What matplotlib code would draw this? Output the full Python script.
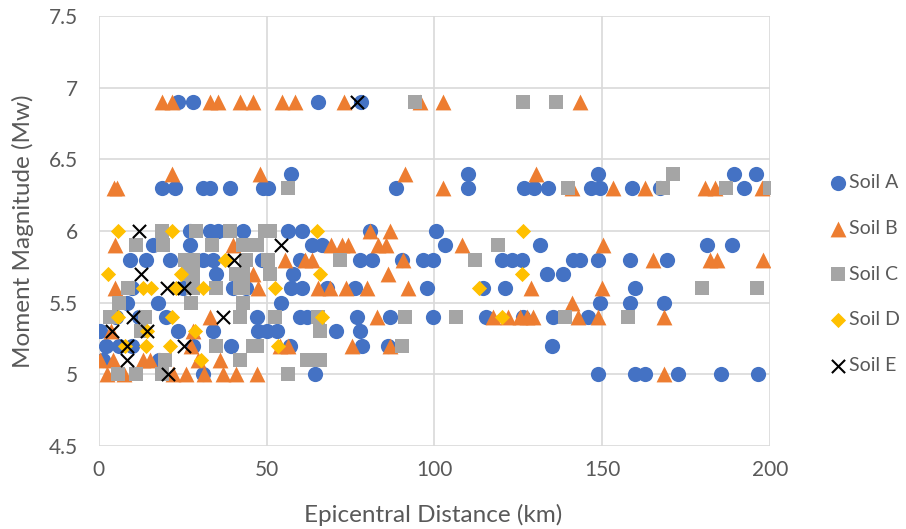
import matplotlib.pyplot as plt

plt.rcParams['font.family'] = ['Lato', 'DejaVu Sans']

# epicentral distance (km) and moment magnitude per soil class
soil_a_km = [23.6, 28.1, 65.4, 78.1,
             57.4, 110.0, 148.6, 189.1, 195.8,
             18.7, 22.7, 31.0, 33.0, 39.0, 49.0, 50.3, 88.5, 109.9, 126.8, 129.7, 133.7, 146.6, 149.3, 158.8, 167.2, 192.3,
             27.1, 33.1, 35.6, 43.0, 56.4, 60.4, 80.8, 100.5,
             16.2, 27.1, 63.4, 66.4, 103.1, 131.4, 181.1, 188.6,
             9.2, 14.0, 21.2, 31.0, 34.0, 48.5, 59.9, 77.8, 81.3, 90.2, 96.5, 99.5, 120.0, 123.0, 126.0, 141.4, 143.4, 148.8, 158.3, 169.2,
             35.0, 57.9, 133.4, 138.4,
             10.0, 25.0, 40.0, 44.0, 57.4, 60.4, 67.9, 76.3, 97.7, 114.5, 121.0, 159.8,
             8.3, 17.7, 54.4, 149.3, 158.3, 168.5,
             5.0, 12.0, 20.0, 47.0, 59.9, 61.9, 76.8, 86.7, 99.6, 115.5, 126.5, 135.4, 145.8,
             0.3, 23.6, 34.0, 47.5, 50.0, 53.0, 70.8, 77.8,
             2.3, 6.0, 10.0, 28.0, 39.5, 56.9, 78.3, 86.2, 135.1,
             1.2, 18.0,
             31.0, 64.4, 148.6, 159.8, 162.7, 172.5, 185.4, 196.5]
soil_a_mw = [6.9] * 4 + [6.4] * 5 + [6.3] * 17 + [6.0] * 8 + [5.9] * 8 + [5.8] * 20 + [5.7] * 4 \
    + [5.6] * 12 + [5.5] * 6 + [5.4] * 13 + [5.3] * 8 + [5.2] * 9 + [5.1] * 2 + [5.0] * 8

soil_b_km = [18.7, 21.7, 33.1, 35.6, 42.0, 46.0, 54.5, 58.4, 73.1, 95.7, 102.6, 143.4,
             21.7, 48.0, 91.2, 130.4,
             4.5, 5.5, 102.6, 140.9, 153.3, 162.7, 180.6, 183.6, 197.5,
             80.8, 86.7,
             4.8, 40.0, 69.2, 72.5, 74.3, 83.3, 85.7, 108.3, 150.3,
             55.4, 61.4, 63.4, 90.5, 165.2, 182.1, 184.1, 198.0,
             46.0, 86.2,
             4.8, 47.5, 65.4, 68.9, 73.8, 79.8, 92.2, 128.9, 149.8,
             140.9,
             33.0, 82.8, 117.5, 122.0, 125.5, 127.5, 129.4, 142.9, 148.8, 168.5,
             3.5, 28.0,
             27.6, 54.0, 56.4, 75.3, 86.7,
             0.3, 4.3, 13.2, 15.2, 29.6, 36.0,
             2.5, 7.5, 22.1, 26.1, 31.5, 37.0, 41.0, 47.0, 168.5]
soil_b_mw = [6.9] * 12 + [6.4] * 4 + [6.3] * 9 + [6.0] * 2 + [5.9] * 9 + [5.8] * 8 + [5.7] * 2 \
    + [5.6] * 9 + [5.5] * 1 + [5.4] * 10 + [5.3] * 2 + [5.2] * 5 + [5.1] * 6 + [5.0] * 9

soil_c_km = [94.2, 126.5, 136.1,
             171.0,
             56.4, 139.7, 168.2, 186.9, 200.0,
             18.7, 29.1, 39.0, 49.5, 51.0,
             11.2, 19.2, 33.6, 43.0, 47.0, 118.8,
             25.6, 28.0, 44.0, 50.5, 71.8, 112.1,
             26.5, 28.0, 41.0, 43.0, 51.0,
             8.7, 28.0, 35.0, 42.0, 43.0, 179.6, 196.0,
             6.0, 27.6, 43.0,
             3.3, 13.7, 42.0, 52.5, 65.4, 91.2, 106.3, 138.9, 157.8,
             12.5, 65.9,
             35.0, 46.0, 47.0, 90.2,
             19.7, 42.0, 61.9, 65.9,
             5.8, 11.2, 18.7, 56.4]
soil_c_mw = [6.9] * 3 + [6.4] * 1 + [6.3] * 5 + [6.0] * 5 + [5.9] * 6 + [5.8] * 6 + [5.7] * 5 \
    + [5.6] * 7 + [5.5] * 3 + [5.4] * 9 + [5.3] * 2 + [5.2] * 4 + [5.1] * 4 + [5.0] * 4

soil_d_km = [5.8, 21.7, 64.9, 126.5,
             37.6,
             2.8, 24.6, 65.9, 126.0,
             13.2, 15.7, 23.0, 31.0, 52.5, 113.3,
             5.8, 21.7, 66.4, 120.0,
             14.5, 28.6,
             7.7, 14.2, 21.2, 53.4,
             30.6]
soil_d_mw = [6.0] * 4 + [5.8] * 1 + [5.7] * 4 + [5.6] * 6 + [5.4] * 4 + [5.3] * 2 + [5.2] * 4 + [5.1] * 1

soil_e_km = [76.8, 12.0, 54.2, 40.2, 12.7, 20.2, 25.4, 10.2, 37.0, 3.8, 14.4, 8.3, 25.4, 8.3, 20.7]
soil_e_mw = [6.9, 6.0, 5.9, 5.8, 5.7, 5.6, 5.6, 5.4, 5.4, 5.3, 5.3, 5.2, 5.2, 5.1, 5.0]

fig = plt.figure(figsize=(9.06, 5.29), dpi=100)
ax = fig.add_axes([0.109, 0.157, 0.741, 0.813])

ax.scatter(soil_a_km, soil_a_mw, marker='o', s=120, color='#4472C4', label='Soil A', zorder=3, linewidths=0)
ax.scatter(soil_b_km, soil_b_mw, marker='^', s=130, color='#ED7D31', label='Soil B', zorder=4, linewidths=0)
ax.scatter(soil_c_km, soil_c_mw, marker='s', s=110, color='#A5A5A5', label='Soil C', zorder=5, linewidths=0)
ax.scatter(soil_d_km, soil_d_mw, marker='D', s=60, color='#FFC000', label='Soil D', zorder=6, linewidths=0)
ax.scatter(soil_e_km, soil_e_mw, marker='x', s=90, color='black', label='Soil E', zorder=7, linewidths=1.5)

ax.set_xlim(0, 200)
ax.set_ylim(4.5, 7.5)
ax.set_xticks([0, 50, 100, 150, 200])
ax.set_yticks([4.5, 5, 5.5, 6, 6.5, 7, 7.5])
ax.set_yticklabels(['4.5', '5', '5.5', '6', '6.5', '7', '7.5'])
ax.grid(True, color='#d9d9d9', linewidth=1.2, zorder=0)
ax.set_axisbelow(True)
for s in ax.spines.values():
    s.set_visible(False)
ax.tick_params(length=0, labelsize=15, labelcolor='#595959')
ax.tick_params(axis='x', pad=10)
ax.tick_params(axis='y', pad=15)
ax.set_xlabel('Epicentral Distance (km)', fontsize=17.5, color='#595959')
ax.set_ylabel('Moment Magnitude (Mw)', fontsize=17.5, color='#595959')
ax.xaxis.set_label_coords(0.4985, -0.135)
ax.yaxis.set_label_coords(-0.097, 0.5)

fig.legend(loc='center left', bbox_to_anchor=(0.914, 0.482), frameon=False,
           fontsize=14, labelcolor='#595959', labelspacing=1.47,
           handletextpad=0.05, borderpad=0, borderaxespad=0, handlelength=1.0)

fig.savefig('out.png', dpi=100)
